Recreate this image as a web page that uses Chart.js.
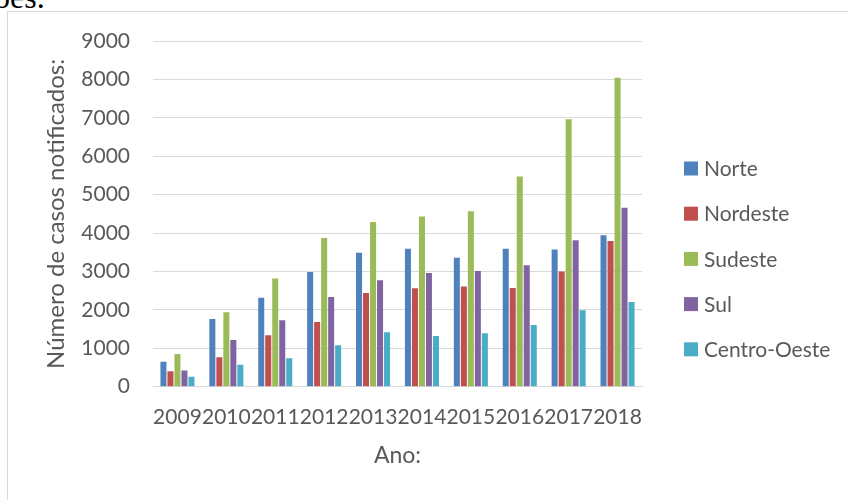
<!DOCTYPE html>
<html>
<head>
<meta charset="utf-8">
<script src="https://cdn.jsdelivr.net/npm/chart.js@4/dist/chart.umd.min.js"></script>
<style>
  html, body { margin: 0; padding: 0; background: #fff; overflow: hidden; }
  body { width: 848px; height: 500px; position: relative; }
  .prev-text {
    position: absolute; left: -6px; top: -19px;
    font-family: "Liberation Serif", "Times New Roman", serif;
    font-size: 32px; line-height: 32px; color: #000; white-space: nowrap;
  }
  .frame {
    position: absolute; left: 7px; top: 11px; width: 900px; height: 600px;
    border-left: 1px solid #d9d9d9; border-top: 1px solid #d9d9d9;
  }
  #wrap { position: absolute; left: 0; top: 0; width: 848px; height: 500px; }
</style>
</head>
<body>
<div class="prev-text">ões.</div>
<div class="frame"></div>
<div id="wrap"><canvas id="chart"></canvas></div>
<script>
// Casos notificados por região, 2009–2018
const anos = ['2009', '2010', '2011', '2012', '2013', '2014', '2015', '2016', '2017', '2018'];
const regioes = ['Norte', 'Nordeste', 'Sudeste', 'Sul', 'Centro-Oeste'];
const norte       = [650, 1760, 2315, 2985, 3490, 3590, 3355, 3590, 3575, 3940];
const nordeste    = [400, 765, 1340, 1685, 2440, 2560, 2610, 2570, 3000, 3790];
const sudeste     = [850, 1935, 2820, 3870, 4290, 4430, 4570, 5475, 6960, 8040];
const sul         = [425, 1215, 1730, 2335, 2770, 2960, 3010, 3160, 3810, 4660];
const centroOeste = [260, 570, 740, 1080, 1415, 1320, 1390, 1605, 1990, 2205];
const yTicks = [0, 1000, 2000, 3000, 4000, 5000, 6000, 7000, 8000, 9000];

const cores = ['#4F81BD', '#C0504D', '#9BBB59', '#8064A2', '#4BACC6'];
const series = [norte, nordeste, sudeste, sul, centroOeste];

const textColor = '#595959';
const fontFamily = 'Lato, "Open Sans", sans-serif';
const fontSize = 21;

// Legend drawn to the right of the plot, one row per region
const sideLegend = {
  id: 'sideLegend',
  afterDraw(chart) {
    const ctx = chart.ctx;
    const boxX = 684, box = 14, textX = 704, firstY = 168.5, step = 45.2;
    ctx.save();
    ctx.font = fontSize + 'px ' + fontFamily;
    ctx.textBaseline = 'middle';
    ctx.textAlign = 'left';
    chart.data.datasets.forEach((ds, i) => {
      const cy = firstY + i * step;
      ctx.fillStyle = ds.backgroundColor;
      ctx.fillRect(boxX, cy - box / 2, box, box);
      ctx.fillStyle = textColor;
      ctx.fillText(ds.label, textX, cy + 1);
    });
    ctx.restore();
  }
};

new Chart(document.getElementById('chart'), {
  type: 'bar',
  data: {
    labels: anos,
    datasets: regioes.map((nome, i) => ({
      label: nome,
      data: series[i],
      backgroundColor: cores[i],
      borderWidth: 0,
      categoryPercentage: 0.716,
      barPercentage: 0.86
    }))
  },
  options: {
    responsive: true,
    maintainAspectRatio: false,
    animation: false,
    layout: { padding: { left: 30, top: 41, right: 206, bottom: 0 } },
    plugins: {
      legend: { display: false },
      tooltip: { enabled: false }
    },
    scales: {
      x: {
        grid: { display: false, drawTicks: false },
        border: { display: true, color: '#d9d9d9', width: 1 },
        ticks: {
          color: textColor,
          font: { family: fontFamily, size: fontSize },
          padding: 18,
          autoSkip: false,
          maxRotation: 0,
          minRotation: 0
        },
        title: {
          display: true,
          text: 'Ano:',
          color: textColor,
          font: { family: fontFamily, size: 23 },
          padding: { top: 0, bottom: 31 }
        },
        afterFit(scale) { scale.height = 113.3; }
      },
      y: {
        min: 0,
        max: 9000,
        afterBuildTicks(scale) { scale.ticks = yTicks.map(v => ({ value: v })); },
        grid: { color: '#d9d9d9', lineWidth: 1, drawTicks: false },
        border: { display: false },
        ticks: {
          color: textColor,
          font: { family: fontFamily, size: fontSize },
          padding: 23,
          callback: (v) => String(v)
        },
        title: {
          display: true,
          text: 'Número de casos notificados:',
          color: textColor,
          font: { family: fontFamily, size: 24 },
          padding: { top: 12, bottom: 0 }
        },
        afterFit(scale) { scale.width = 123; }
      }
    }
  },
  plugins: [sideLegend]
});
</script>
</body>
</html>
